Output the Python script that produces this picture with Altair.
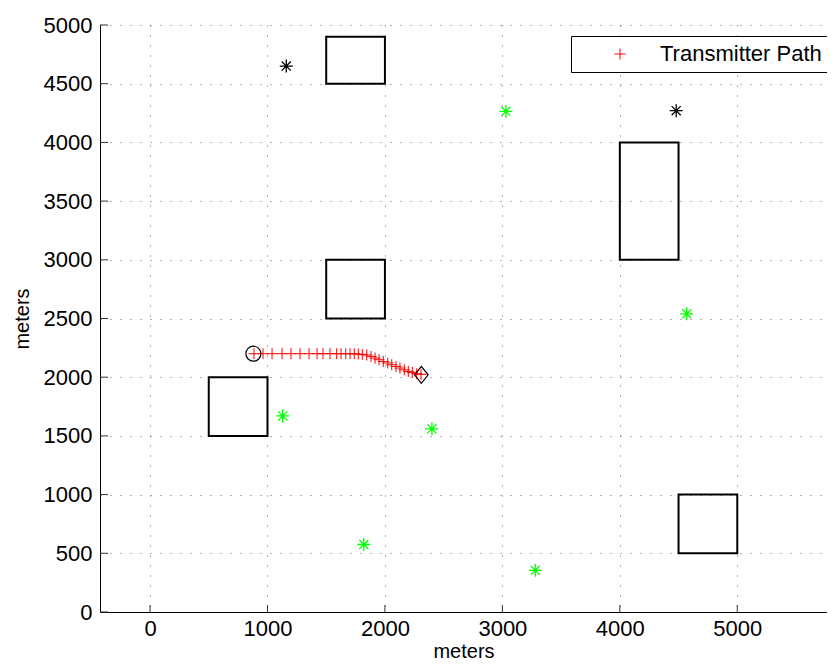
import altair as alt
import pandas as pd

# ---- data ----
bld_x0 = [500, 1500, 1500, 4000, 4500]
bld_x1 = [1000, 2000, 2000, 4500, 5000]
bld_y0 = [1500, 2500, 4500, 3000, 500]
bld_y1 = [2000, 3000, 4900, 4000, 1000]

black_x = [1160, 4480]
black_y = [4650, 4270]

green_x = [3030, 4570, 1130, 2400, 1820, 3280]
green_y = [4265, 2540, 1670, 1560, 575, 355]

path_x = [885, 962, 1039, 1124, 1200, 1277, 1354, 1422, 1473, 1532, 1589, 1626,
          1666, 1703, 1739, 1773, 1807, 1845, 1882, 1916, 1950, 1986, 2024, 2058,
          2094, 2128, 2165, 2199, 2233, 2271, 2307]
path_y = [2200, 2200, 2200, 2200, 2200, 2200, 2200, 2200, 2200, 2200, 2200, 2200,
          2200, 2200, 2200, 2197, 2194, 2189, 2177, 2163, 2149, 2134, 2121, 2106,
          2092, 2078, 2063, 2049, 2041, 2030, 2024]

start_x = [880]
start_y = [2200]
end_x = [2310]
end_y = [2020]

x_ticks = [0, 1000, 2000, 3000, 4000, 5000]
y_ticks = [0, 500, 1000, 1500, 2000, 2500, 3000, 3500, 4000, 4500, 5000]

# ---- styling ----
FONT = "Liberation Sans"
W, H = 727, 587
PLUS = "M-1,0L1,0M0,-1L0,1"
STAR = "M-1,0L1,0M0,-1L0,1M-0.7,-0.7L0.7,0.7M-0.7,0.7L0.7,-0.7"
DIAMOND = "M0,-1L0.8,0L0,1L-0.8,0Z"

xs = alt.Scale(domain=[-426, 5764], nice=False, zero=False)
ys = alt.Scale(domain=[0, 5000], nice=False, zero=False)

xaxis = alt.Axis(values=x_ticks, format="d", title="meters", grid=True, ticks=False,
                 labelPadding=6, titleBaseline="alphabetic", titleY=45, titleFontSize=20)
yaxis = alt.Axis(values=y_ticks, format="d", title="meters", grid=True, ticks=False,
                 labelPadding=8, titlePadding=11, titleFontSize=20)

def X(f):
    return alt.X(f, type="quantitative", scale=xs, axis=xaxis)

def Y(f):
    return alt.Y(f, type="quantitative", scale=ys, axis=yaxis)

bld = pd.DataFrame({"x": bld_x0, "x2": bld_x1, "y": bld_y0, "y2": bld_y1})
blk = pd.DataFrame({"x": black_x, "y": black_y})
grn = pd.DataFrame({"x": green_x, "y": green_y})
pth = pd.DataFrame({"x": path_x, "y": path_y, "name": ["Transmitter Path"] * len(path_x)})
st = pd.DataFrame({"x": start_x, "y": start_y})
en = pd.DataFrame({"x": end_x, "y": end_y})
xt = pd.DataFrame({"x": x_ticks})
yt = pd.DataFrame({"y": y_ticks})

buildings = alt.Chart(bld).mark_rect(fill=None, stroke="black", strokeWidth=2).encode(
    x=X("x"), x2="x2", y=Y("y"), y2="y2")

blacks = alt.Chart(blk).mark_point(shape=STAR, filled=False, color="black",
                                   strokeWidth=1.3, size=169, opacity=1).encode(x=X("x"), y=Y("y"))
greens = alt.Chart(grn).mark_point(shape=STAR, filled=False, color="#00ff00",
                                   strokeWidth=1.3, size=169, opacity=1).encode(x=X("x"), y=Y("y"))

path = alt.Chart(pth).mark_point(shape=PLUS, filled=False, strokeWidth=1, size=121, opacity=1).encode(
    x=X("x"), y=Y("y"),
    color=alt.Color("name:N", scale=alt.Scale(domain=["Transmitter Path"], range=["#ff0000"]),
                    legend=alt.Legend(title=None, orient="none", legendX=471, legendY=11,
                                      symbolType=PLUS, symbolSize=121, symbolStrokeWidth=1,
                                      symbolOffset=31, labelOffset=29, labelLimit=400,
                                      labelFontSize=22, labelFont=FONT, labelColor="black",
                                      strokeColor="black", fillColor="white", padding=7,
                                      cornerRadius=0)))

start = alt.Chart(st).mark_point(shape="circle", filled=False, color="black",
                                 strokeWidth=1.2, size=225, opacity=1).encode(x=X("x"), y=Y("y"))
end = alt.Chart(en).mark_point(shape=DIAMOND, filled=False, color="black",
                               strokeWidth=1.2, size=289, opacity=1).encode(x=X("x"), y=Y("y"))

xtick = alt.Chart(xt).mark_rule(color="#333", strokeWidth=1).encode(
    x=X("x"), y=alt.value(H), y2=alt.value(H - 7))
ytick = alt.Chart(yt).mark_rule(color="#333", strokeWidth=1).encode(
    y=Y("y"), x=alt.value(0), x2=alt.value(8))

chart = alt.layer(xtick, ytick, buildings, blacks, greens, path, start, end).properties(
    width=W, height=H,
    autosize=alt.AutoSizeParams(type="none"),
    padding={"left": 92, "top": 17, "right": 0, "bottom": 48},
).configure_view(stroke=None).configure_axis(
    labelFont=FONT, labelFontSize=22, labelColor="black",
    titleFont=FONT, titleFontWeight="normal", titleColor="black",
    domainColor="black", domainWidth=1,
    gridColor="#666", gridWidth=1, gridDash=[1, 9], gridOpacity=1,
)

chart.save("out.html", embed_options={"renderer": "svg", "actions": False})
